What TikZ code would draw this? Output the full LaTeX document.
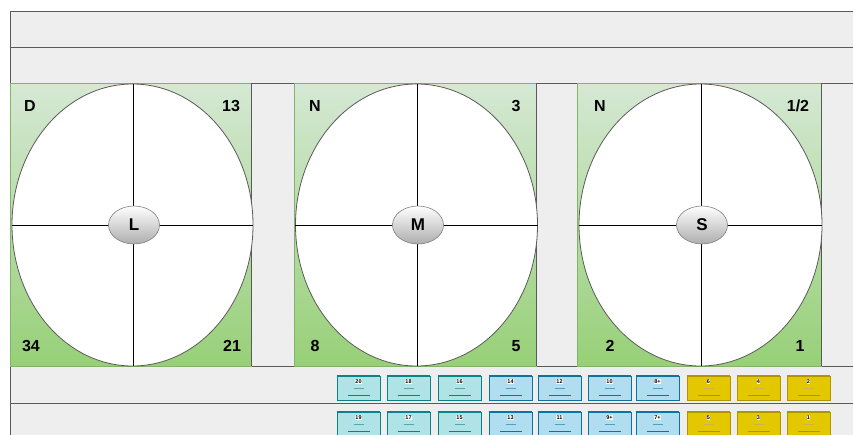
\documentclass[tikz,border=0pt]{standalone}
\usepackage{fontspec}
\setmainfont{Liberation Sans}
\usetikzlibrary{shapes.geometric}
\definecolor{bggray}{HTML}{EEEEEE}
\definecolor{linegray}{HTML}{5A5A5A}
\definecolor{greentop}{HTML}{D5E8D4}
\definecolor{greenbot}{HTML}{97D077}
\definecolor{greenline}{HTML}{82B366}
\definecolor{tealfill}{HTML}{B0E3E6}
\definecolor{tealline}{HTML}{0E8088}
\definecolor{bluefill}{HTML}{B1DDF0}
\definecolor{blueline}{HTML}{10739E}
\definecolor{yelfill}{HTML}{E3C800}
\definecolor{yelline}{HTML}{B09500}
\tikzset{
  band/.style={draw=linegray, fill=bggray, line width=0.8pt},
  panel/.style={draw=greenline, top color=greentop, bottom color=greenbot, line width=0.8pt},
  bigoval/.style={ellipse, draw=linegray, fill=white, line width=0.8pt, minimum width=241pt, minimum height=282pt, inner sep=0pt},
  crossline/.style={draw=black, line width=0.6pt},
  hub/.style={ellipse, draw=gray, top color=white, bottom color=black!32, line width=0.6pt, minimum width=51pt, minimum height=38pt, inner sep=0pt, font=\fontsize{17}{19}\selectfont\bfseries},
  corner/.style={font=\fontsize{16}{18}\selectfont\bfseries, inner sep=0pt},
  tealbox/.style={draw=tealline, fill=tealfill},
  bluebox/.style={draw=blueline, fill=bluefill},
  yelbox/.style={draw=yelline, fill=yelfill},
  chip/.style={rectangle, minimum width=43pt, minimum height=24pt, inner sep=0pt, line width=0.8pt},
  chiptext/.style={font=\fontsize{5.5}{6}\selectfont\bfseries, fill=white, inner sep=0.4pt},
}
\begin{document}
\begin{tikzpicture}[x=1pt,y=-1pt]
\useasboundingbox (0,0) rectangle (853,434);
\clip (0,0) rectangle (853,434);
\fill[white] (0,0) rectangle (853,434);
% bands
\path[band] (10,11) rectangle (860,47);
\path[band] (10,47) rectangle (860,83);
\path[band] (10,83) rectangle (860,366);
\path[band] (10,366) rectangle (860,403);
\path[band] (10,403) rectangle (860,440);
% gray columns
\path[band] (251,83) rectangle (294,366);
\path[band] (536,83) rectangle (577,366);
\path[band] (821,83) rectangle (860,366);
% green panels
\path[panel] (10,83) rectangle (251,366);
\path[panel] (294,83) rectangle (536,366);
\path[panel] (577,83) rectangle (821,366);
\draw[linegray, line width=0.8pt] (251,83) -- (251,366) (536,83) -- (536,366) (821,83) -- (821,366);
% big ovals
\node[bigoval] (ovL) at (132.5,225) {};
\node[bigoval, minimum width=242pt] (ovM) at (416.5,225) {};
\node[bigoval, minimum width=243pt] (ovS) at (700.5,225) {};
\foreach \o in {ovL,ovM,ovS}{
  \draw[crossline] ([xshift=1pt]\o.north) -- ([xshift=1pt]\o.south);
  \draw[crossline] (\o.west) -- (\o.east);
}
\node[hub] (hL) at ([xshift=1.5pt]ovL.center) {L};
\node[hub] (hM) at ([xshift=1.5pt]ovM.center) {M};
\node[hub] (hS) at ([xshift=1.5pt]ovS.center) {S};
% corner labels
\node[corner] (cL1) at (30,106) {D};
\node[corner] (cL2) at (231,106) {13};
\node[corner] (cL3) at (31,346) {34};
\node[corner] (cL4) at (232,346) {21};
\node[corner] (cM1) at (315,106) {N};
\node[corner] (cM2) at (516,106) {3};
\node[corner] (cM3) at (315,346) {8};
\node[corner] (cM4) at (516,346) {5};
\node[corner] (cS1) at (600,106) {N};
\node[corner] (cS2) at (798,106) {1/2};
\node[corner] (cS3) at (610,346) {2};
\node[corner] (cS4) at (800,346) {1};
% chips
\foreach \x/\a/\b/\c/\k in {337/20/19/tealline/tealbox,387/18/17/tealline/tealbox,438/16/15/tealline/tealbox,489/14/13/blueline/bluebox,538/12/11/blueline/bluebox,588/10/9+/blueline/bluebox,636/8+/7+/blueline/bluebox,687/6/5/yelline/yelbox,737/4/3/yelline/yelbox,787/2/1/yelline/yelbox}{
  \foreach \yy/\t/\r in {388/\a/1,424/\b/2}{
    \node[chip, \k] (chip\r-\x) at (\x+21.5,\yy) {};
    \draw[\c, line width=1.6pt] (chip\r-\x.north west) -- (chip\r-\x.north east);
    \node[chiptext] (lab\r-\x) at ([yshift=-6pt]chip\r-\x.north) {\t};
    \draw[\c!70, line width=0.9pt] ([shift={(-5pt,-13pt)}]chip\r-\x.north) -- ++(10pt,0);
    \draw[\c, line width=0.9pt] ([shift={(-11pt,-20pt)}]chip\r-\x.north) -- ++(22pt,0);
  }
}
\end{tikzpicture}
\end{document}
